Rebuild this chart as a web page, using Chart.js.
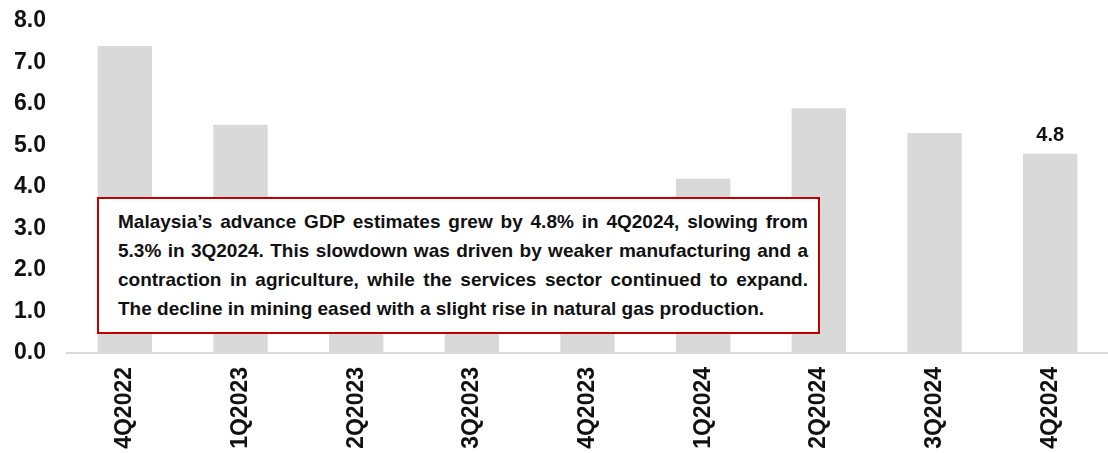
<!DOCTYPE html>
<html>
<head>
<meta charset="utf-8">
<script src="https://cdn.jsdelivr.net/npm/chart.js@4"></script>
<style>
  html, body { margin: 0; padding: 0; background: #fff; }
  #wrap { position: relative; width: 1108px; height: 453px; }
  #gdpChart { display: block; }
  #note {
    position: absolute; left: 97px; top: 197px; width: 690px; height: 117px;
    border: 2px solid #c00000; background: #fff;
    padding: 8px 10px 8px 19px;
    font: bold 19px "Liberation Sans", Arial, sans-serif; line-height: 29px;
    color: #111;
  }
  #note div { text-align: justify; text-align-last: justify; }
  #note div:last-child { text-align-last: left; }
</style>
</head>
<body>
<div id="wrap">
  <canvas id="gdpChart" width="1108" height="453"></canvas>
  <div id="note">
    <div>Malaysia’s advance GDP estimates grew by 4.8% in 4Q2024, slowing from</div>
    <div>5.3% in 3Q2024. This slowdown was driven by weaker manufacturing and a</div>
    <div>contraction in agriculture, while the services sector continued to expand.</div>
    <div>The decline in mining eased with a slight rise in natural gas production.</div>
  </div>
</div>
<script>
// Real GDP growth, % YoY
const quarters = ['4Q2022', '1Q2023', '2Q2023', '3Q2023', '4Q2023', '1Q2024', '2Q2024', '3Q2024', '4Q2024'];
const growth = [7.4, 5.5, 2.9, 3.3, 2.9, 4.2, 5.9, 5.3, 4.8];
const yTicks = [0, 1, 2, 3, 4, 5, 6, 7, 8];

const font = { family: '"Liberation Sans", Arial, sans-serif', size: 23, weight: 'bold' };

// label only the latest quarter
const lastValueLabel = {
    id: 'lastValueLabel',
    afterDatasetsDraw(chart) {
        const ctx = chart.ctx;
        const meta = chart.getDatasetMeta(0);
        const i = growth.length - 1;
        const bar = meta.data[i];
        ctx.save();
        ctx.font = 'bold 20px "Liberation Sans", Arial, sans-serif';
        ctx.fillStyle = '#111';
        ctx.textAlign = 'center';
        ctx.textBaseline = 'bottom';
        ctx.fillText(growth[i].toFixed(1), bar.x, bar.y - 8);
        ctx.restore();
    }
};

const ctx = document.getElementById('gdpChart').getContext('2d');
const gdpChart = new Chart(ctx, {
    type: 'bar',
    data: {
        labels: quarters,
        datasets: [{
            data: growth,
            backgroundColor: '#d9d9d9',
            categoryPercentage: 1.0,
            barPercentage: 0.47,
        }]
    },
    options: {
        responsive: false,
        animation: false,
        layout: { padding: { top: 21, right: 0, left: 0, bottom: 0 } },
        plugins: { legend: { display: false }, tooltip: { enabled: false } },
        scales: {
            x: {
                grid: { display: false, drawTicks: false },
                border: { display: true, color: '#d9d9d9', width: 2 },
                ticks: { color: '#111', font: font, maxRotation: 90, minRotation: 90, padding: 14 },
                afterFit(scale) {
                    scale.height = 100;
                    scale.paddingLeft = 0;
                    scale.paddingRight = 0;
                }
            },
            y: {
                min: 0,
                max: 8,
                afterBuildTicks(scale) { scale.ticks = yTicks.map(v => ({ value: v })); },
                grid: { display: false, drawTicks: false },
                border: { display: false },
                ticks: { color: '#111', font: font, padding: 21, callback: v => v.toFixed(1) },
                afterFit(scale) {
                    scale.width = 67;
                    scale.paddingTop = 0;
                    scale.paddingBottom = 0;
                }
            }
        }
    },
    plugins: [lastValueLabel]
});
</script>
</body>
</html>
